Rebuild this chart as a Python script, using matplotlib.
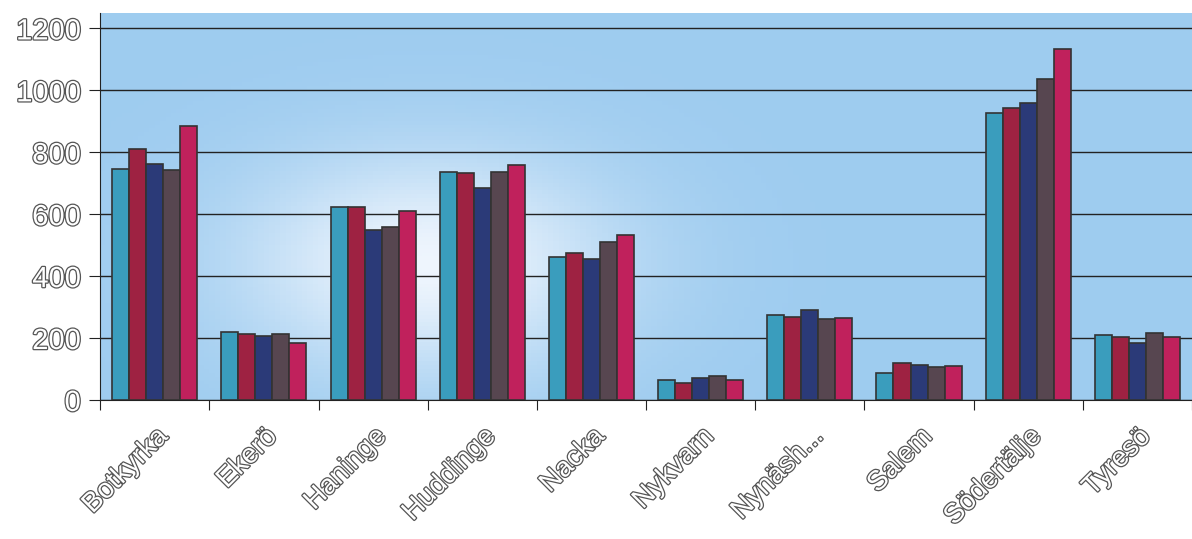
import numpy as np
import matplotlib.pyplot as plt
import matplotlib.patheffects as pe

kommuner = ['Botkyrka', 'Ekerö', 'Haninge', 'Huddinge', 'Nacka', 'Nykvarn',
            'Nynäsh...', 'Salem', 'Södertälje', 'Tyresö']
serie1 = [747, 220, 624, 737, 463, 66, 274, 87, 928, 210]
serie2 = [809, 213, 624, 734, 475, 56, 268, 120, 944, 204]
serie3 = [763, 207, 550, 683, 456, 72, 290, 113, 960, 184]
serie4 = [744, 213, 560, 737, 511, 78, 260, 107, 1037, 216]
serie5 = [886, 184, 611, 760, 534, 63, 266, 110, 1132, 204]
yticks = [0, 200, 400, 600, 800, 1000, 1200]

colors = ['#3a9dbd', '#9e2242', '#2b3a78', '#574650', '#c0215c']
series = [serie1, serie2, serie3, serie4, serie5]

plt.rcParams['font.family'] = ['Liberation Sans', 'DejaVu Sans']

fig = plt.figure(figsize=(11.92, 5.39), dpi=100)
ax = fig.add_axes([0.084, 0.258, 0.916, 0.718])

# bakgrund, ljusblå med ljusare fläck till vänster
gx = np.linspace(0, 1, 200)
gy = np.linspace(0, 1, 100)
X, Y = np.meshgrid(gx, gy)
light = np.exp(-((X - 0.3) ** 2) / 0.03 - ((Y - 0.35) ** 2) / 0.08)
base = np.array([0.62, 0.80, 0.94])
white = np.array([0.97, 0.98, 1.0])
img = base[None, None, :] * (1 - light[..., None] * 0.9) + white[None, None, :] * light[..., None] * 0.9
ax.imshow(img, extent=[-0.5, 9.5, 0, 1250], aspect='auto', origin='lower', zorder=0)

x = np.arange(len(kommuner))
w = 0.156
for i, (vals, c) in enumerate(zip(series, colors)):
    ax.bar(x + (i - 2) * w, vals, width=w, color=c, edgecolor='#333333',
           linewidth=1.2, zorder=3)

ax.set_xlim(-0.5, 9.5)
ax.set_ylim(0, 1250)
ax.set_yticks(yticks)
ax.yaxis.grid(True, color='#222222', linewidth=1.0, zorder=1)
ax.set_axisbelow(True)

ax.set_xticks(np.arange(-0.5, 10.5, 1))
ax.set_xticklabels([])
ax.set_xticks(x, minor=True)
ax.set_xticklabels(kommuner, minor=True, rotation=45, ha='right',
                   rotation_mode='anchor', fontsize=20, color='white')
ax.tick_params(axis='x', which='minor', length=0, pad=17)
ax.tick_params(axis='x', which='major', length=7, direction='out', color='#222222')
ax.tick_params(axis='y', length=8, direction='out', color='#222222',
               labelsize=21, labelcolor='white', pad=6)

# ihåliga bokstäver som i originalet
outline = [pe.withStroke(linewidth=1.8, foreground='#555555')]
for lab in ax.get_yticklabels() + ax.get_xticklabels(minor=True):
    lab.set_path_effects(outline)

for s in ['top', 'right']:
    ax.spines[s].set_visible(False)
ax.spines['left'].set_color('#222222')
ax.spines['bottom'].set_color('#222222')

fig.savefig('out.png', dpi=100)
